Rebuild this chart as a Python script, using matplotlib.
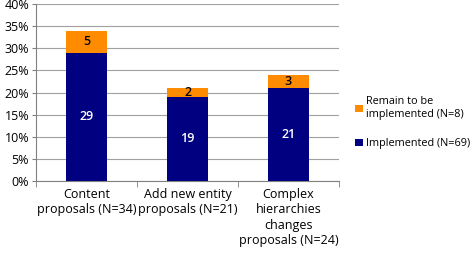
import numpy as np
import matplotlib
matplotlib.use("Agg")
import matplotlib.pyplot as plt
from matplotlib.ticker import PercentFormatter

# data (percent of proposals)
categories = ["Content\nproposals (N=34)",
              "Add new entity\nproposals (N=21)",
              "Complex\nhierarchies\nchanges\nproposals (N=24)"]
implemented = [29, 19, 21]
remaining = [5, 2, 3]
legend_labels = ["Implemented (N=69)", "Remain to be\nimplemented (N=8)"]

navy = "#000080"
orange = "#FF8C00"

plt.rcParams['font.family'] = ['Open Sans', 'DejaVu Sans']

fig = plt.figure(figsize=(4.73, 2.56), dpi=100)
ax = fig.add_axes([36 / 473, 1 - 181 / 256, 303 / 473, 177 / 256])

x = np.arange(len(categories))
b1 = ax.bar(x, implemented, width=0.4, color=navy, label=legend_labels[0], zorder=3)
b2 = ax.bar(x, remaining, width=0.4, bottom=implemented, color=orange,
            label=legend_labels[1], zorder=3)

# value labels inside the segments
for i in range(len(x)):
    ax.text(x[i], implemented[i] / 2, str(implemented[i]), ha="center", va="center",
            color="white", fontsize=9, fontweight="semibold", zorder=4)
    ax.text(x[i], implemented[i] + remaining[i] / 2, str(remaining[i]), ha="center",
            va="center", color="black", fontsize=9, fontweight="semibold", zorder=4)

ax.set_xlim(-0.5, len(categories) - 0.5)
ax.set_ylim(0, 40)
ax.set_yticks(np.arange(0, 41, 5))
ax.yaxis.set_major_formatter(PercentFormatter(decimals=0))
ax.yaxis.grid(True, color="#a0a0a0", linewidth=0.8, zorder=0)

ax.set_xticks(x)
ax.set_xticklabels(categories, fontsize=9, linespacing=1.25)
ax.set_xticks(np.arange(-0.5, len(categories), 1), minor=True)
ax.tick_params(axis="x", which="major", length=0, pad=5)
ax.tick_params(axis="x", which="minor", length=4, color="#808080")
ax.tick_params(axis="y", length=3, color="#808080", labelsize=9, pad=2)

for side in ["top", "right"]:
    ax.spines[side].set_visible(False)
ax.spines["left"].set_color("#808080")
ax.spines["bottom"].set_color("#808080")

handles = [b2, b1]
ax.legend(handles, [legend_labels[1], legend_labels[0]], loc="center left",
          bbox_to_anchor=(355 / 473, 0.52), bbox_transform=fig.transFigure,
          frameon=False, fontsize=7.8, handlelength=0.7, handleheight=0.7,
          handletextpad=0.35, labelspacing=1.7, borderaxespad=0, borderpad=0)

fig.savefig("out.png", dpi=100)
